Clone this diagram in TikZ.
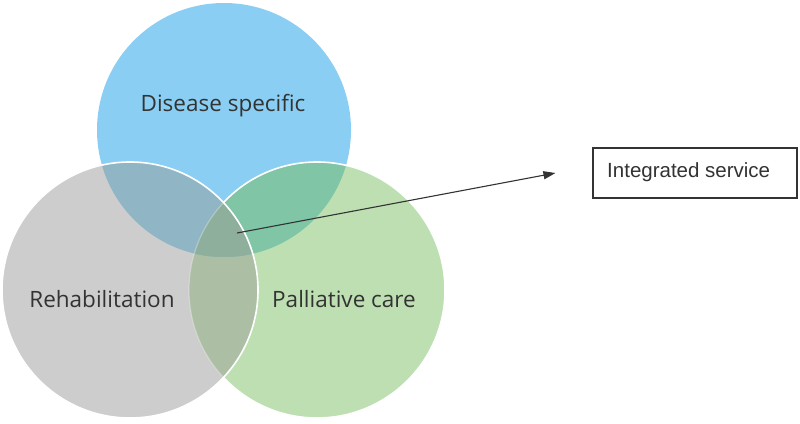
\documentclass[tikz,border=0pt]{standalone}
\usepackage{fontspec}
\setmainfont{Open Sans}
\newfontfamily\arialf{Liberation Sans}
\usetikzlibrary{arrows.meta,calc}
\definecolor{blueC}{HTML}{8ACFF3}
\definecolor{grayC}{HTML}{CDCDCD}
\definecolor{greenC}{HTML}{BDDFB2}
\definecolor{bgC}{HTML}{90B5C5}
\definecolor{bgnC}{HTML}{80C5A6}
\definecolor{ggC}{HTML}{ACBEA4}
\definecolor{triC}{HTML}{8EAF9C}
\definecolor{txtC}{HTML}{333333}
\tikzset{
  lbl/.style={anchor=base, text=txtC, font=\fontsize{22.5}{26}\selectfont, inner sep=0pt},
  outl/.style={draw=white, line width=1.6pt},
  boxst/.style={draw=txtC, line width=1.1pt, minimum width=204pt, minimum height=50pt, inner sep=0pt},
  arr/.style={draw=txtC, line width=1.1pt, -{Triangle[length=12pt,width=8pt]}}
}
\begin{document}
\begin{tikzpicture}[x=1pt,y=-1pt]
\fill[white] (0,0) rectangle (800,423);
\useasboundingbox (0,0) rectangle (800,423);
\coordinate (B) at (224,130);
\coordinate (R) at (130,290);
\coordinate (G) at (317,290);
% base fills
\fill[blueC] (B) circle (127pt);
\fill[greenC] (G) circle (128pt);
\fill[grayC] (R) circle (128pt);
% gray & green
\begin{scope}
  \clip (R) circle (128pt);
  \fill[ggC] (G) circle (128pt);
\end{scope}
% overlaps with blue
\begin{scope}
  \clip (B) circle (127pt);
  \fill[bgnC] (G) circle (128pt);
  \fill[bgC] (R) circle (128pt);
  \begin{scope}
    \clip (R) circle (128pt);
    \fill[triC] (G) circle (128pt);
  \end{scope}
\end{scope}
% outlines: green outline white outside gray, faint inside gray
\begin{scope}[even odd rule]
  \clip (R) circle (128pt) (-10,-10) rectangle (810,433);
  \draw[outl] (G) circle (128pt);
\end{scope}
\begin{scope}
  \clip (R) circle (128pt);
  \draw[draw=white, line width=1.2pt, opacity=0.3] (G) circle (128pt);
\end{scope}
\draw[outl] (R) circle (128pt);
% labels
\node[lbl] (ds) at (223,111) {Disease specific};
\node[lbl] (rh) at (102,307) {Rehabilitation};
\node[lbl] (pc) at (344,307) {Palliative care};
% box
\node[boxst] (box) at (695,173) {};
\node[anchor=base west, inner sep=0pt, text=txtC, font=\arialf\fontsize{20.5}{24}\selectfont] (bt) at (607,177) {Integrated service};
% arrow
\coordinate (st) at (237,233);
\coordinate (tip) at ($(box.west)+(-37,0)$);
\draw[arr] (st) -- (tip);
\end{tikzpicture}
\end{document}
